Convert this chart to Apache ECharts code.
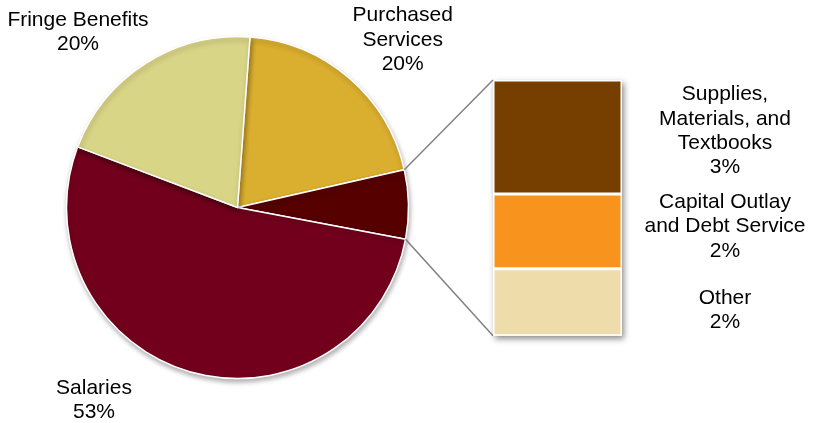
<!DOCTYPE html>
<html>
<head>
<meta charset="utf-8">
<script src="https://cdn.jsdelivr.net/npm/echarts@6/dist/echarts.min.js"></script>
<style>
html,body{margin:0;padding:0;background:#fff;}
#chart{width:816px;height:423px;}
</style>
</head>
<body>
<div id="chart"></div>
<script>
// ---- data ----
const pieNames = ['Purchased Services', 'Other', 'Salaries', 'Fringe Benefits'];
const pieLabelText = ['Purchased\nServices', '', 'Salaries', 'Fringe Benefits'];
const pieMainValues = [20.3, null, 52.8, 20.4]; // "Other" = sum of bar breakdown
const barNames = ['Supplies, Materials, and Textbooks', 'Capital Outlay and Debt Service', 'Other'];
const barLabelText = ['Supplies,\nMaterials, and\nTextbooks', 'Capital Outlay\nand Debt Service', 'Other'];
const barValues = [2.9, 1.9, 1.7];

const pieColors = ['#DAAE2E', '#560000', '#72001C', '#D9D587'];
const barColors = ['#763F00', '#F8931D', '#EEDCAA'];

const otherTotal = barValues.reduce((a, b) => a + b, 0);
const pieValues = pieMainValues.map(v => v === null ? otherTotal : v);
const pieTotal = pieValues.reduce((a, b) => a + b, 0);

const FONT = "'Liberation Sans', Arial, sans-serif";
const FS = 21, LH = 24.4;
const CX = 237.5, CY = 207.5, R = 171, START = 85.8;
const GRID_LEFT = 493, GRID_TOP = 80, BAR_W = 129, BAR_H = 255.7;

const pieLabelPos = [[402.7, 40], null, [94, 400], [78, 32]];
const barLabelDy = [-6, -5, 8];

const chart = echarts.init(document.getElementById('chart'), null, {renderer: 'canvas'});

const pieData = pieNames.map((n, i) => ({
  name: n,
  value: pieValues[i],
  itemStyle: {color: pieColors[i]},
  label: {show: i !== 1, formatter: pieLabelText[i] + '\n' + Math.round(pieValues[i] / pieTotal * 100) + '%'}
}));

const barSeries = [];
for (let i = barValues.length - 1; i >= 0; i--) {
  barSeries.push({
    type: 'bar',
    name: barNames[i],
    stack: 'breakdown',
    barWidth: BAR_W,
    showBackground: i === barValues.length - 1,
    backgroundStyle: {color: '#fff', shadowBlur: 6, shadowOffsetX: 2, shadowOffsetY: 3, shadowColor: 'rgba(0,0,0,0.45)'},
    itemStyle: {color: barColors[i], borderColor: '#fff', borderWidth: 1.5},
    label: {
      show: true,
      position: [232, '50%'],
      align: 'center',
      verticalAlign: 'middle',
      offset: [0, barLabelDy[i]],
      formatter: barLabelText[i] + '\n' + Math.round(barValues[i]) + '%',
      fontFamily: FONT, fontSize: FS, lineHeight: LH, color: '#000'
    },
    data: [barValues[i]],
    silent: true
  });
}

chart.setOption({
  animation: false,
  grid: {left: GRID_LEFT, top: GRID_TOP, width: BAR_W, height: BAR_H},
  xAxis: {type: 'category', data: ['breakdown'], show: false},
  yAxis: {type: 'value', min: 0, max: otherTotal, show: false},
  series: [{
    type: 'pie',
    center: [CX, CY],
    radius: [0, R],
    startAngle: START,
    clockwise: true,
    avoidLabelOverlap: false,
    silent: true,
    itemStyle: {borderColor: '#fff', borderWidth: 1.5, shadowBlur: 5, shadowOffsetX: 1, shadowOffsetY: 3, shadowColor: 'rgba(0,0,0,0.3)'},
    label: {position: 'outside', fontFamily: FONT, fontSize: FS, lineHeight: LH, color: '#000', align: 'center'},
    labelLine: {show: false},
    labelLayout: function (p) {
      const pos = pieLabelPos[p.dataIndex];
      if (!pos) return {};
      return {x: pos[0], y: pos[1], align: 'center', verticalAlign: 'middle'};
    },
    data: pieData
  }].concat(barSeries)
});

// connector lines from the "Other" slice edges to the breakdown bar corners
const a1 = (START - pieValues[0] / pieTotal * 360) * Math.PI / 180;
const a2 = (START - (pieValues[0] + pieValues[1]) / pieTotal * 360) * Math.PI / 180;
const topPt = chart.convertToPixel({xAxisIndex: 0, yAxisIndex: 0}, [0, otherTotal]);
const botPt = chart.convertToPixel({xAxisIndex: 0, yAxisIndex: 0}, [0, 0]);
const lineStyle = {stroke: '#808080', lineWidth: 1.5};
chart.setOption({
  graphic: [
    {type: 'line', silent: true, z: 10, shape: {x1: CX + R * Math.cos(a1), y1: CY - R * Math.sin(a1), x2: topPt[0] - BAR_W / 2, y2: topPt[1]}, style: lineStyle},
    {type: 'line', silent: true, z: 10, shape: {x1: CX + R * Math.cos(a2), y1: CY - R * Math.sin(a2), x2: botPt[0] - BAR_W / 2, y2: botPt[1]}, style: lineStyle}
  ]
});
</script>
</body>
</html>
